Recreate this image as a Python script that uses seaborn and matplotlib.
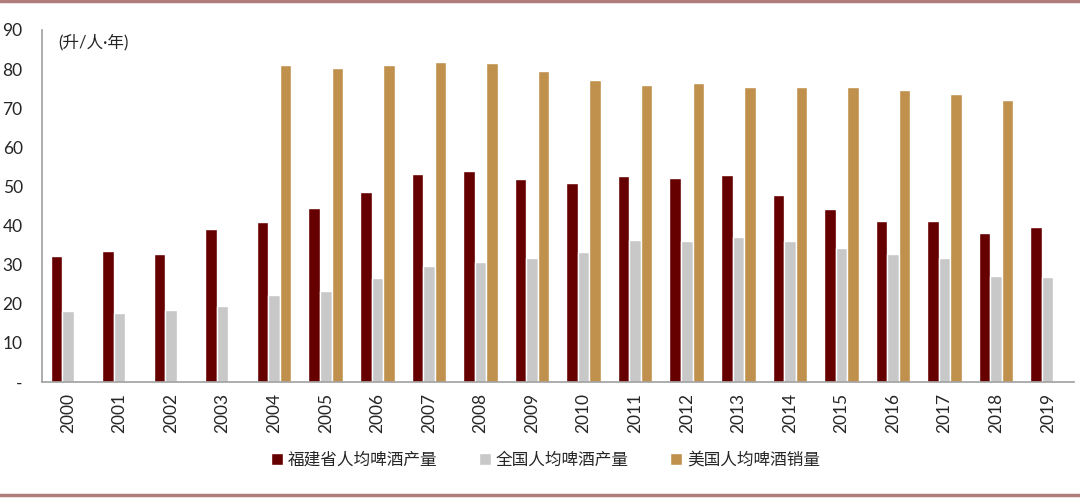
import pandas as pd
import numpy as np
import seaborn as sns
import matplotlib.pyplot as plt
from matplotlib.lines import Line2D

years = [str(y) for y in range(2000, 2020)]
fujian = [32.2, 33.5, 32.7, 39.1, 40.9, 44.5, 48.6, 53.2, 54.0, 51.9,
          50.9, 52.7, 52.2, 52.9, 47.8, 44.2, 41.2, 41.2, 38.1, 39.6]
china = [18.2, 17.6, 18.4, 19.4, 22.2, 23.3, 26.6, 29.7, 30.7, 31.7,
         33.2, 36.3, 36.1, 37.1, 36.1, 34.3, 32.7, 31.7, 27.1, 26.8]
usa = [np.nan, np.nan, np.nan, np.nan, 81.0, 80.3, 81.0, 81.8, 81.6, 79.5,
       77.2, 75.9, 76.4, 75.4, 75.4, 75.4, 74.7, 73.6, 72.1, np.nan]
series_names = ['福建省人均啤酒产量', '全国人均啤酒产量', '美国人均啤酒销量']
colors = ['#660000', '#C8C8C8', '#C0904D']

df = pd.DataFrame({'year': years, series_names[0]: fujian,
                   series_names[1]: china, series_names[2]: usa})
long_df = df.melt(id_vars='year', var_name='series', value_name='value')

sns.set_style('white')
plt.rcParams['font.family'] = ['Lato', 'Noto Sans CJK SC', 'DejaVu Sans']

fig = plt.figure(figsize=(10.8, 4.98), dpi=100)
ax = fig.add_axes([0.039, 0.233, 0.955, 0.707])

sns.barplot(data=long_df, x='year', y='value', hue='series', hue_order=series_names,
            palette=colors, width=0.67, errorbar=None, saturation=1, ax=ax)

ax.set_xlim(-0.5, len(years) - 0.5)
ax.set_ylim(0, 90)
ax.set_yticks(range(0, 100, 10))
ax.set_yticklabels(['-'] + [str(v) for v in range(10, 100, 10)], fontsize=12.5)
ax.tick_params(axis='y', length=0, pad=14)
ax.set_xticks(range(len(years)))
ax.set_xticklabels(years, rotation=90, fontsize=12.5)
ax.tick_params(axis='x', which='major', length=0, pad=8)
ax.set_xticks(np.arange(-0.5, len(years), 1), minor=True)
ax.tick_params(axis='x', which='minor', length=5, color='#999999', width=1)
ax.set_xlabel('')
ax.set_ylabel('')

for side in ['top', 'right']:
    ax.spines[side].set_visible(False)
for side in ['left', 'bottom']:
    ax.spines[side].set_color('#A0A0A0')
    ax.spines[side].set_linewidth(1.2)

ax.text(0.016, 0.99, '(升/人·年)', transform=ax.transAxes, fontsize=12,
        va='top', ha='left', family=['Lato', 'Noto Sans CJK SC'])

ax.legend(loc='center', bbox_to_anchor=(0.505, 0.076), bbox_transform=fig.transFigure,
          ncol=3, frameon=False, handlelength=0.7, handleheight=0.7, handletextpad=0.3,
          columnspacing=2.5, prop={'family': 'Noto Sans CJK SC', 'size': 12})

fig.add_artist(Line2D([0, 1], [0.997, 0.997], color='#B07C7C', lw=2.5, transform=fig.transFigure))
fig.add_artist(Line2D([0, 1], [0.006, 0.006], color='#B07C7C', lw=2.5, transform=fig.transFigure))

fig.savefig('out.png', dpi=100)
